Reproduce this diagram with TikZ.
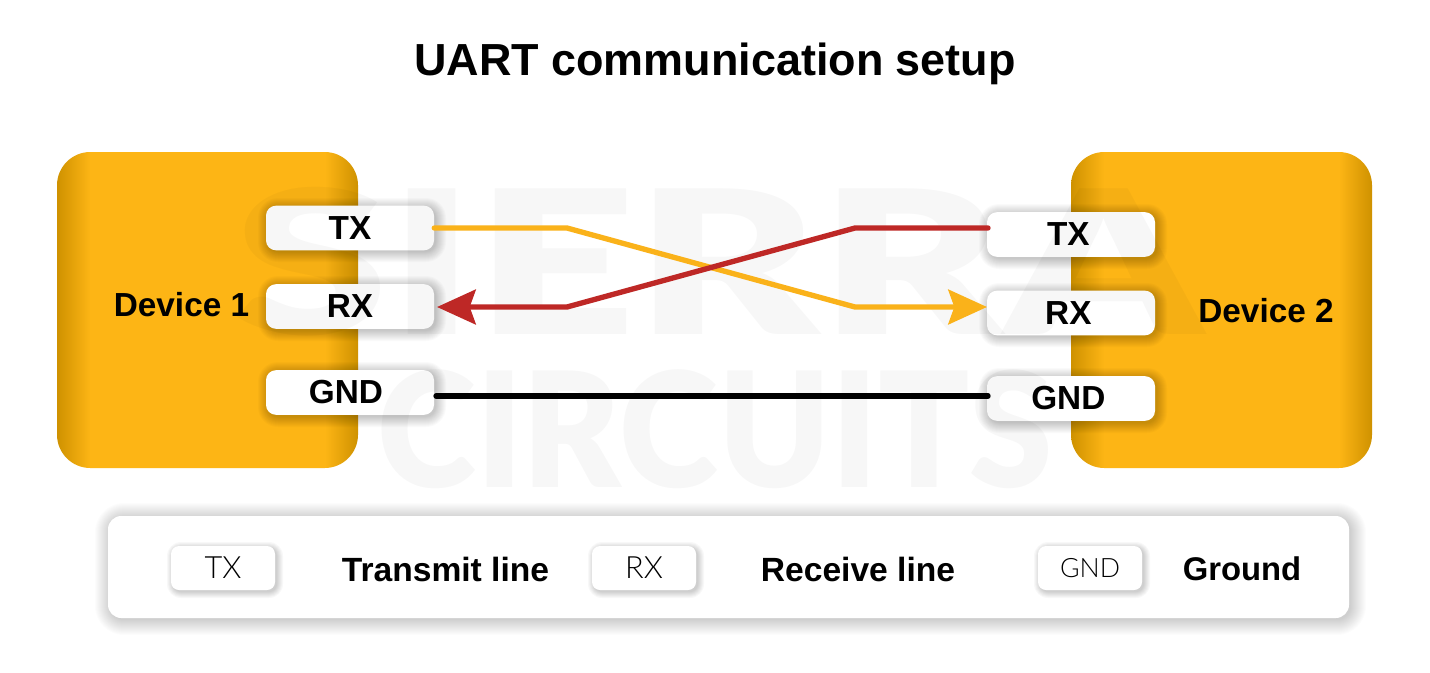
\documentclass[tikz,border=0pt]{standalone}
\usepackage{fontspec}
\setmainfont{Liberation Sans}
\newfontfamily\lightfont{Lato Light}
\newfontfamily\heavyfont{Lato Black}
\usetikzlibrary{arrows.meta,calc}
\definecolor{wirered}{RGB}{190,40,38}
\definecolor{wirey}{RGB}{250,178,26}
\definecolor{pinfill}{RGB}{255,255,255}
\pgfdeclarehorizontalshading{devshade}{100bp}{rgb(0bp)=(.81,.57,0);rgb(25bp)=(.81,.57,0);rgb(30.5bp)=(.992,.71,.082);rgb(69.5bp)=(.992,.71,.082);rgb(75bp)=(.81,.57,0);rgb(100bp)=(.81,.57,0)}
% soft shadow: x1,y1,x2,y2,radius,spread,offset,step opacity
\newcommand\softshadow[8]{%
  \foreach \s in {1,...,#6}{%
    \fill[black,opacity=#8,rounded corners={(#5+#6-\s)*0.75pt}]
      ({#1-#6+\s+#7},{#2-#6+\s+#7}) rectangle ({#3+#6-\s+#7},{#4+#6-\s+#7});
  }}
\tikzset{
  x=0.75pt,y=-0.75pt,
  device/.style={rounded corners=25pt,minimum width=225.75pt,minimum height=237pt,inner sep=0pt,shading=devshade,shading angle=0},
  pinbox/.style={fill=pinfill,rounded corners=7.5pt,minimum width=126pt,minimum height=33.5pt,inner sep=0pt,font=\fontsize{25}{25}\selectfont\bfseries},
  keybox/.style={fill=white,rounded corners=6pt,minimum width=78pt,minimum height=33pt,inner sep=0pt,font=\lightfont\fontsize{23}{23}\selectfont},
  devlabel/.style={inner sep=0pt,font=\fontsize{25}{25}\selectfont\bfseries},
  keylabel/.style={inner sep=0pt,font=\fontsize{25.2}{25.2}\selectfont\bfseries},
  wire/.style={line width=4pt,line join=miter},
  tip/.style={-{Stealth[length=29pt,width=26pt,inset=4.5pt]}},
  mark text/.style={inner sep=0pt,text=black,opacity=0.032}
}
\begin{document}
\begin{tikzpicture}
\useasboundingbox (0,0) rectangle (1430,672);
\fill[white] (0,0) rectangle (1430,672);
\node[inner sep=0pt,font=\fontsize{33.7}{33.7}\selectfont\bfseries] (title) at (715,64) {UART communication setup};
% devices
\node[device] (dev1) at (207.5,310) {};
\node[device] (dev2) at (1221.5,310) {};
\node[devlabel] (dev1label) at (181.5,305) {Device 1};
\node[devlabel] (dev2label) at (1266,311) {Device 2};
% pin shadows
\softshadow{266}{206}{434}{250}{10}{11}{2}{0.02}
\softshadow{266}{284}{434}{329}{10}{11}{2}{0.02}
\softshadow{266}{370}{434}{415}{10}{11}{2}{0.02}
\softshadow{987}{212}{1155}{257}{10}{11}{2}{0.02}
\softshadow{987}{291}{1155}{335}{10}{11}{2}{0.02}
\softshadow{987}{376}{1155}{421}{10}{11}{2}{0.02}
% pins
\node[pinbox] (ltx) at (350,228) {TX};
\node[pinbox] (lrx) at (350,306.5) {RX};
\node[pinbox] (lgnd) at (350,392.5) {GND\kern 6pt};
\node[pinbox] (rtx) at (1071,234.5) {TX\kern 4pt};
\node[pinbox] (rrx) at (1071,313) {RX\kern 4pt};
\node[pinbox] (rgnd) at (1071,398.5) {GND\kern 4pt};
% watermark
\node[mark text,font=\heavyfont\fontsize{150}{150}\selectfont,xscale=1.4] (mark1) at (718,262) {SIERRA};
\node[mark text,font=\heavyfont\fontsize{120}{120}\selectfont,xscale=0.94] (mark2) at (715,429) {CIRCUITS};
% wire way points
\coordinate (tx1a) at (ltx.east);
\coordinate (tx1b) at (567,228);
\coordinate (tx1c) at (855,307);
\coordinate (tx1d) at (987,307);
\coordinate (tx2a) at (988,228);
\coordinate (tx2b) at (855,228);
\coordinate (tx2c) at (567,307);
\coordinate (tx2d) at (437,307);
\coordinate (g1) at (436,396);
\coordinate (g2) at (988,396);
% wires
\draw[wire,wirey,tip,line cap=round] (tx1a) -- (tx1b) -- (tx1c) -- (tx1d);
\draw[wire,wirered,tip,line cap=round] (tx2a) -- (tx2b) -- (tx2c) -- (tx2d);
\draw[wire,black,line cap=round] (g1) -- (g2);
% legend
\softshadow{108}{516}{1349}{618}{14}{16}{2}{0.012}
\node[fill=white,rounded corners=10pt,minimum width=930.75pt,minimum height=76.5pt,inner sep=0pt] (legend) at (728.5,567) {};
\softshadow{171}{546}{275}{590}{8}{7}{2}{0.028}
\softshadow{592}{546}{696}{590}{8}{7}{2}{0.028}
\softshadow{1038}{546}{1142}{590}{8}{7}{2}{0.028}
\node[keybox] (ktx) at (223,568) {TX};
\node[keybox] (krx) at (644,568) {RX};
\node[keybox,font=\lightfont\fontsize{20}{20}\selectfont] (kgnd) at (1090,568) {GND};
\node[keylabel] (ktxl) at (445.5,569) {Transmit line};
\node[keylabel] (krxl) at (858,569) {Receive line};
\node[keylabel,font=\fontsize{24.6}{24.6}\selectfont\bfseries] (kgndl) at (1242,569) {Ground};
\end{tikzpicture}
\end{document}
